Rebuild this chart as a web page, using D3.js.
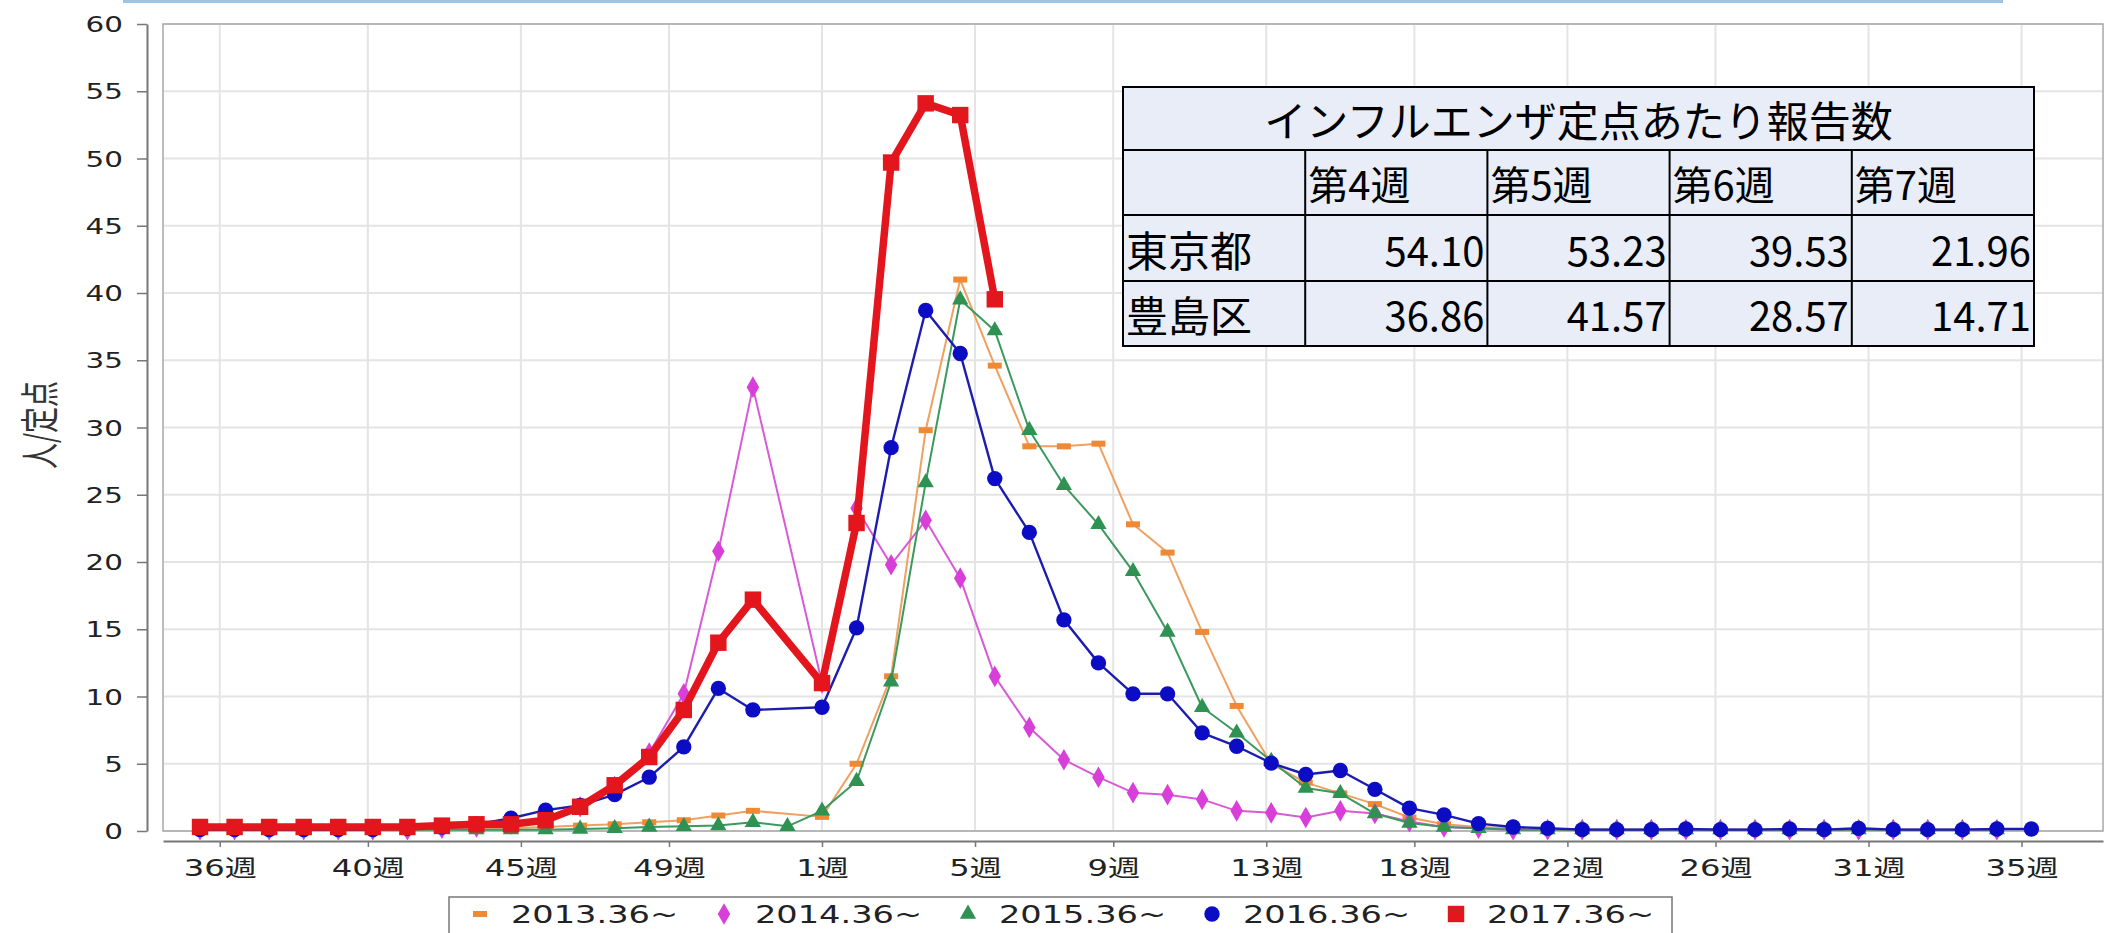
<!DOCTYPE html>
<html>
<head>
<meta charset="utf-8">
<script src="https://cdn.jsdelivr.net/npm/d3@7/dist/d3.min.js"></script>
<style>
  html, body { margin: 0; padding: 0; background: #ffffff; }
  svg { display: block; }
</style>
</head>
<body>
<svg id="chart" width="2121" height="933"></svg>
<script>
// Week slots of one season: 36..52, 53, 1..36
const weeks = [36,37,38,39,40,41,42,43,44,45,46,47,48,49,50,51,52,53,
  1,2,3,4,5,6,7,8,9,10,11,12,13,14,15,16,17,18,19,20,21,22,23,24,25,26,27,28,29,30,31,32,33,34,35,36];

// Month tick labels (week number at the first of each month)
const tickLabels = ["36週","40週","45週","49週","1週","5週","9週","13週","18週","22週","26週","31週","35週"];
const yTicks = [0,5,10,15,20,25,30,35,40,45,50,55,60];

// 定点あたり報告数 per season (null = no report for that slot)
const s2013 = [0.1,0.1,0.1,0.1,0.1,0.1,0.1,0.1,0.2,0.2,0.3,0.4,0.5,0.65,0.8,1.15,1.5,null,
  1.05,5.0,11.5,29.8,41.0,34.6,28.6,28.6,28.8,22.8,20.7,14.8,9.3,5.0,3.6,2.8,2.0,1.0,0.5,0.3,0.2,0.1,0.1,0.1,0.1,0.1,0.1,0.1,0.1,0.1,0.1,0.1,0.1,0.1,0.1,null];
const s2014 = [0.1,0.1,0.1,0.1,0.1,0.1,0.1,0.2,0.3,0.5,1.0,1.8,3.3,5.8,10.2,20.8,33.0,null,
  11.0,24.0,19.8,23.1,18.8,11.5,7.7,5.3,4.0,2.85,2.7,2.35,1.5,1.35,1.0,1.5,1.3,0.7,0.3,0.2,0.1,0.1,0.1,0.1,0.1,0.1,0.1,0.1,0.1,0.1,0.1,0.1,0.1,0.1,0.1,null];
const s2015 = [0.1,0.1,0.1,0.1,0.1,0.1,0.1,0.1,0.1,0.1,0.1,0.15,0.2,0.3,0.35,0.4,0.65,0.35,
  1.5,3.7,11.1,25.9,39.5,37.2,29.8,25.7,22.8,19.3,14.8,9.2,7.3,5.2,3.2,2.8,1.3,0.6,0.3,0.2,0.1,0.1,0.1,0.1,0.1,0.1,0.1,0.1,0.1,0.1,0.1,0.1,0.1,0.1,0.1,null];
const s2016 = [0.1,0.1,0.1,0.1,0.1,0.1,0.2,0.3,0.5,0.95,1.55,1.9,2.7,4.0,6.25,10.6,9.0,null,
  9.2,15.1,28.5,38.7,35.5,26.2,22.2,15.7,12.5,10.2,10.2,7.3,6.3,5.05,4.2,4.5,3.1,1.7,1.2,0.55,0.3,0.2,0.1,0.1,0.1,0.15,0.1,0.1,0.15,0.1,0.2,0.1,0.1,0.1,0.15,0.15];
const s2017 = [0.3,0.3,0.3,0.3,0.3,0.3,0.3,0.4,0.5,0.5,0.8,1.8,3.4,5.5,9.0,14.0,17.2,null,
  11.0,22.9,49.7,54.10,53.23,39.53];

const seriesNames = ["2013.36~","2014.36~","2015.36~","2016.36~","2017.36~"];
const seriesValues = [s2013, s2014, s2015, s2016, s2017];
const seriesColors = ["#ee8a35","#d83fd8","#2f9152","#0c0cc4","#e3151d"];
const lineColors   = ["#f0a060","#d85ad8","#3a9a5e","#1c1cb0","#e3151d"];
const lineWidths   = [2, 2, 2, 2.4, 7.5];
const markerKinds  = ["dash","diamond","triangle","circle","square"];

// Inset table: インフルエンザ定点あたり報告数
const tableTitle = "インフルエンザ定点あたり報告数";
const tableWeeks = ["第4週","第5週","第6週","第7週"];
const tableRows = ["東京都","豊島区"];
const tableValues = [[54.10,53.23,39.53,21.96],[36.86,41.57,28.57,14.71]];

const svg = d3.select("#chart");
const DAY = 864e5;
const slot0 = Date.UTC(2017, 7, 28);          // date of the first week slot
const slotDate = i => new Date(slot0 + i * 7 * DAY);

const plot = {left: 163, right: 2103, top: 24, bottom: 831};
const x = d3.scaleUtc()
  .domain([new Date(slot0 - 7.5 * DAY), new Date(slot0 + 385.5 * DAY)])
  .range([plot.left, plot.right]);
const y = d3.scaleLinear().domain([0, 60]).range([plot.bottom, plot.top]);
const monthTicks = d3.utcMonth.range(new Date(Date.UTC(2017, 8, 1)), new Date(Date.UTC(2018, 8, 2)));

const TEXT_SX = 1.4;   // wide glyphs of the axis lettering
const axisFont = "'DejaVu Sans', 'Noto Sans CJK JP', sans-serif";

// light blue rule across the top
svg.append("rect").attr("x", 123).attr("y", 0).attr("width", 1880).attr("height", 3)
  .attr("fill", "#9dc3e6");

// grid
const grid = svg.append("g");
grid.selectAll("line.h").data(yTicks).join("line")
  .attr("x1", plot.left).attr("x2", plot.right)
  .attr("y1", d => y(d)).attr("y2", d => y(d))
  .attr("stroke", "#e4e4e4").attr("stroke-width", 2);
grid.selectAll("line.v").data(monthTicks).join("line")
  .attr("x1", d => x(d)).attr("x2", d => x(d))
  .attr("y1", plot.top).attr("y2", plot.bottom)
  .attr("stroke", "#e4e4e4").attr("stroke-width", 2);

// plot frame
svg.append("rect").attr("x", plot.left).attr("y", plot.top)
  .attr("width", plot.right - plot.left).attr("height", plot.bottom - plot.top)
  .attr("fill", "none").attr("stroke", "#a8a8a8").attr("stroke-width", 1.5);

// y axis (offset to the left of the frame)
const yAxis = svg.append("g").attr("transform", "translate(147,0)")
  .call(d3.axisLeft(y).tickValues(yTicks).tickSize(10).tickSizeOuter(0));
yAxis.select(".domain").attr("stroke", "#777").attr("stroke-width", 2);
yAxis.selectAll(".tick line").attr("stroke", "#777").attr("stroke-width", 1.5);
yAxis.selectAll(".tick text")
  .attr("x", 0).attr("dy", "0.36em")
  .attr("transform", `translate(-24,0) scale(${TEXT_SX},1)`)
  .attr("font-family", axisFont).attr("font-size", 21).attr("fill", "#222");

// x axis (offset below the frame)
const xAxis = svg.append("g").attr("transform", "translate(0,841)")
  .call(d3.axisBottom(x).tickValues(monthTicks).tickFormat((d, i) => tickLabels[i])
    .tickSize(6).tickSizeOuter(0));
xAxis.select(".domain").attr("stroke", "#777").attr("stroke-width", 2);
xAxis.selectAll(".tick line").attr("stroke", "#777").attr("stroke-width", 1.5);
xAxis.selectAll(".tick text")
  .attr("y", 0).attr("dy", "0.71em")
  .attr("transform", `translate(0,19) scale(${TEXT_SX},1)`)
  .attr("font-family", axisFont).attr("font-size", 23).attr("fill", "#222");

// y axis title
svg.append("text")
  .attr("transform", "translate(40,425) scale(1.5,1) rotate(-90)")
  .attr("text-anchor", "middle").attr("dy", "0.35em")
  .attr("font-family", "'Noto Sans CJK JP', sans-serif").attr("font-size", 26)
  .attr("fill", "#333").text("人/定点");

// marker drawing
function marker(sel, kind, color) {
  if (kind === "dash") {
    sel.append("rect").attr("x", -7).attr("y", -3).attr("width", 14).attr("height", 6)
      .attr("fill", color);
  } else {
    const type = {diamond: d3.symbolDiamond, triangle: d3.symbolTriangle,
                  circle: d3.symbolCircle, square: d3.symbolSquare}[kind];
    const size = {diamond: 135, triangle: 115, circle: 185, square: 270}[kind];
    sel.append("path").attr("d", d3.symbol(type, size)()).attr("fill", color);
  }
}

// series lines and markers
const line = d3.line().x(d => x(slotDate(d.i))).y(d => y(d.v));
seriesValues.forEach((vals, k) => {
  const pts = vals.map((v, i) => ({i, v, w: weeks[i]})).filter(d => d.v !== null);
  const g = svg.append("g");
  g.append("path").datum(pts).attr("d", line)
    .attr("fill", "none").attr("stroke", lineColors[k])
    .attr("stroke-width", lineWidths[k]).attr("stroke-linejoin", "round");
  g.selectAll("g.m").data(pts).join("g")
    .attr("transform", d => `translate(${x(slotDate(d.i))},${y(d.v)})`)
    .each(function () { marker(d3.select(this), markerKinds[k], seriesColors[k]); });
});

// legend
const legend = svg.append("g");
legend.append("rect").attr("x", 449).attr("y", 897).attr("width", 1223).attr("height", 50)
  .attr("fill", "#fff").attr("stroke", "#777").attr("stroke-width", 1.5);
seriesNames.forEach((name, k) => {
  const gx = 480 + k * 244;
  const item = legend.append("g").attr("transform", `translate(${gx},914)`);
  marker(item, markerKinds[k], seriesColors[k]);
  item.append("text").attr("transform", `translate(31,0) scale(${TEXT_SX},1)`)
    .attr("dy", "0.36em").attr("font-family", axisFont).attr("font-size", 24)
    .attr("fill", "#222").text(name);
});

// inset table
const tbl = {left: 1123, top: 87, colW: 182.2, rowH: [63, 65, 66, 65]};
const tableFont = "'Noto Sans CJK JP', sans-serif";
const rowY = [tbl.top];
tbl.rowH.forEach(h => rowY.push(rowY[rowY.length - 1] + h));
const colX = d3.range(6).map(c => tbl.left + c * tbl.colW);
const tg = svg.append("g");
tg.append("rect").attr("x", colX[0]).attr("y", rowY[0])
  .attr("width", colX[5] - colX[0]).attr("height", rowY[4] - rowY[0])
  .attr("fill", "#e8edf7").attr("stroke", "#000").attr("stroke-width", 2);
[1, 2, 3].forEach(r => tg.append("line")
  .attr("x1", colX[0]).attr("x2", colX[5]).attr("y1", rowY[r]).attr("y2", rowY[r])
  .attr("stroke", "#000").attr("stroke-width", 2));
[1, 2, 3, 4].forEach(c => tg.append("line")
  .attr("x1", colX[c]).attr("x2", colX[c]).attr("y1", rowY[1]).attr("y2", rowY[4])
  .attr("stroke", "#000").attr("stroke-width", 2));
tg.append("text").attr("x", (colX[0] + colX[5]) / 2).attr("y", rowY[1] - 13)
  .attr("text-anchor", "middle").attr("font-family", tableFont).attr("font-size", 42)
  .attr("fill", "#000").text(tableTitle);
tableWeeks.forEach((w, c) => tg.append("text")
  .attr("x", colX[c + 1] + 3).attr("y", rowY[2] - 15)
  .attr("font-family", tableFont).attr("font-size", 40).attr("fill", "#000").text(w));
tableRows.forEach((r, ri) => {
  tg.append("text").attr("x", colX[0] + 3).attr("y", rowY[ri + 3] - 14)
    .attr("font-family", tableFont).attr("font-size", 42).attr("fill", "#000").text(r);
  tableValues[ri].forEach((v, c) => tg.append("text")
    .attr("x", colX[c + 2] - 3).attr("y", rowY[ri + 3] - 15)
    .attr("text-anchor", "end").attr("font-family", tableFont).attr("font-size", 40)
    .attr("fill", "#000").text(v.toFixed(2)));
});
</script>
</body>
</html>
